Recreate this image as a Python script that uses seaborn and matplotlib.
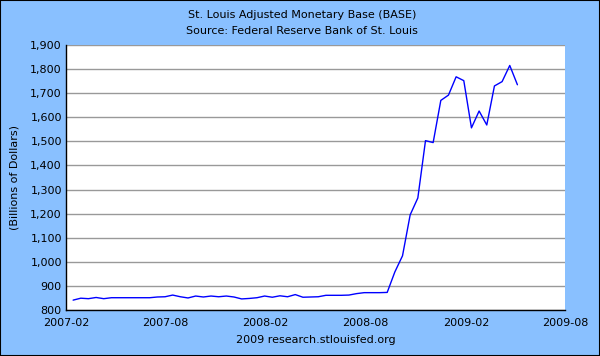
import matplotlib
matplotlib.use("Agg")
import matplotlib.pyplot as plt
from matplotlib.ticker import FuncFormatter, MultipleLocator
from matplotlib.patches import Rectangle
import pandas as pd
import seaborn as sns

# Adjusted monetary base, biweekly, billions of dollars
start_date = "2007-02-14"
base_values = [
    841, 849, 847, 852, 847, 851, 851, 851, 851, 851,
    851, 854, 855, 862, 855, 850, 858, 854, 858, 855,
    858, 854, 846, 848, 851, 858, 853, 859, 855, 864,
    853, 854, 855, 861, 861, 861, 862, 868, 872, 872,
    872, 873, 958, 1025, 1195, 1265, 1503, 1495, 1670, 1692,
    1768, 1752, 1556, 1626, 1568, 1730, 1748, 1815, 1735,
]
tick_labels = ["2007-02", "2007-08", "2008-02", "2008-08", "2009-02", "2009-08"]

dates = pd.date_range(start_date, periods=len(base_values), freq="14D")
df = pd.DataFrame({"date": dates, "base": base_values})

bg = "#89c0ff"
sns.set_style("white")
plt.rcParams["font.family"] = ["DejaVu Sans"]
plt.rcParams["text.color"] = "black"
plt.rcParams["axes.labelcolor"] = "black"
plt.rcParams["xtick.color"] = "black"
plt.rcParams["ytick.color"] = "black"

fig = plt.figure(figsize=(6, 3.56), dpi=100, facecolor=bg)
ax = fig.add_axes([0.11, 0.1292, 0.8317, 0.7444])
ax.set_facecolor("white")

sns.lineplot(data=df, x="date", y="base", ax=ax, color="#0000ff", linewidth=1)

ax.set_ylim(800, 1900)
ax.yaxis.set_major_locator(MultipleLocator(100))
ax.yaxis.set_major_formatter(FuncFormatter(lambda v, p: f"{int(v):,}"))
ax.grid(axis="y", color="#999999", linewidth=1)
ax.set_axisbelow(True)

tick_dates = pd.to_datetime([t + "-01" for t in tick_labels])
ax.set_xlim(tick_dates[0], tick_dates[-1])
ax.set_xticks(tick_dates)
ax.set_xticklabels(tick_labels)

for side in ["top", "right"]:
    ax.spines[side].set_visible(False)
for side in ["left", "bottom"]:
    ax.spines[side].set_color("black")
    ax.spines[side].set_linewidth(1)
ax.tick_params(direction="in", length=5, width=1, labelsize=8)
ax.tick_params(axis="y", pad=3)
ax.tick_params(axis="x", pad=6)

ax.set_xlabel("2009 research.stlouisfed.org", fontsize=8, labelpad=5)
ax.set_ylabel("(Billions of Dollars)", fontsize=8, labelpad=8)

fig.text(0.503, 0.957, "St. Louis Adjusted Monetary Base (BASE)", ha="center", va="center", fontsize=8)
fig.text(0.503, 0.914, "Source: Federal Reserve Bank of St. Louis", ha="center", va="center", fontsize=8)

fig.patches.append(Rectangle((0, 0), 1, 1, transform=fig.transFigure, fill=False,
                             edgecolor="black", linewidth=1.5))

fig.savefig("out.png", dpi=100, facecolor=bg)
